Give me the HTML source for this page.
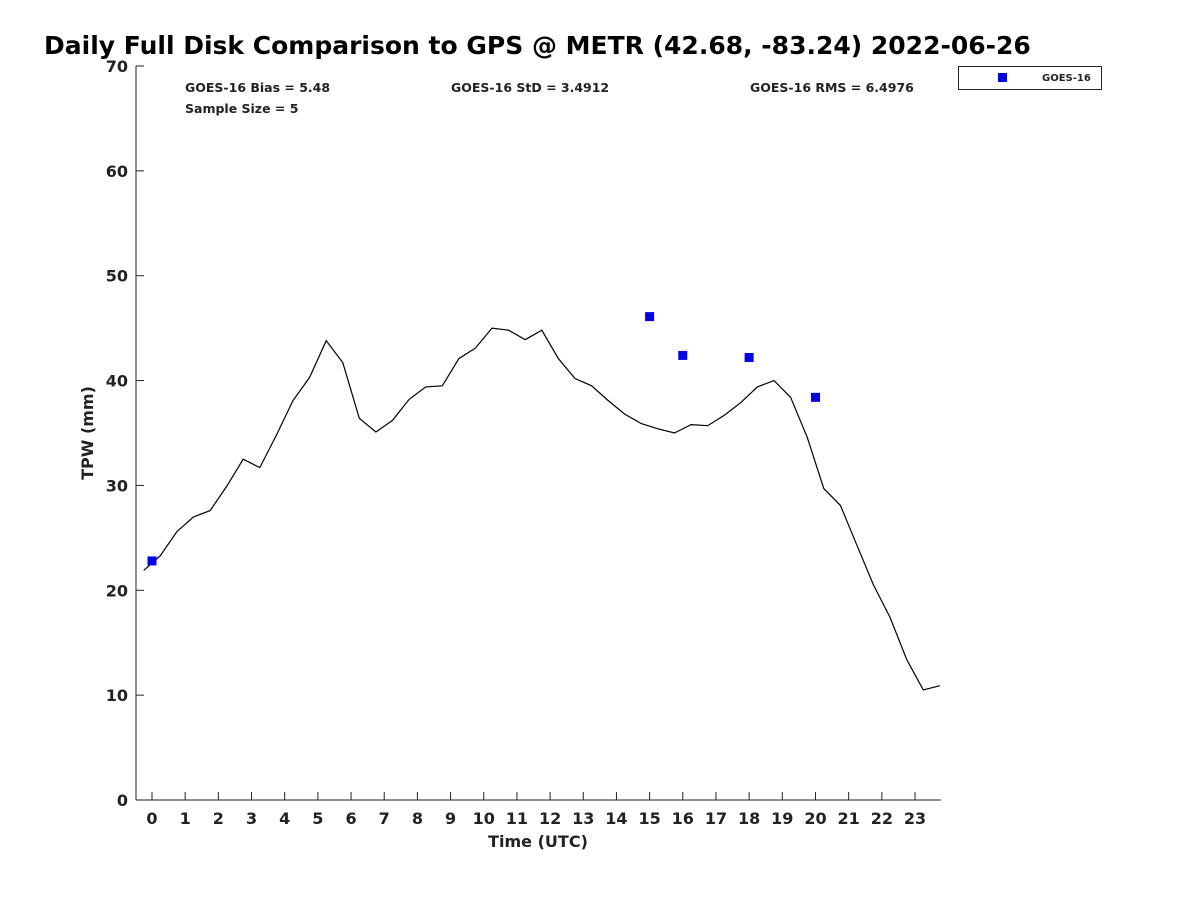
<!DOCTYPE html>
<html><head><meta charset="utf-8"><style>
body{margin:0;background:#fff;}
svg text{font-family:"DejaVu Sans","Liberation Sans",sans-serif;font-weight:bold;fill:#222;}
</style></head><body>
<svg width="1200" height="900" viewBox="0 0 1200 900" id="c">
<rect width="1200" height="900" fill="#fff"/>
<text x="44" y="54" font-size="25" fill="#000" style="fill:#000">Daily Full Disk Comparison to GPS @ METR (42.68, -83.24) 2022-06-26</text>
<text x="185" y="92" font-size="12.5">GOES-16 Bias = 5.48</text>
<text x="451" y="92" font-size="12.5">GOES-16 StD = 3.4912</text>
<text x="750" y="92" font-size="12.5">GOES-16 RMS = 6.4976</text>
<text x="185" y="113" font-size="12.5">Sample Size = 5</text>
<g>
<rect x="958.5" y="66.5" width="143" height="23" fill="#fff" stroke="#222"/>
<rect x="998" y="73" width="9" height="9" fill="#0000ee"/>
<text x="1042" y="81" font-size="10">GOES-16</text>
</g>
<text transform="translate(93,433) rotate(-90)" text-anchor="middle" font-size="16">TPW (mm)</text>
<text x="538" y="847" text-anchor="middle" font-size="16">Time (UTC)</text>
<g id="plot"></g>
</svg>
<script>
const yTicks=[0,10,20,30,40,50,60,70];
const xTicks=[0,1,2,3,4,5,6,7,8,9,10,11,12,13,14,15,16,17,18,19,20,21,22,23];
const gpsStart=-0.25, gpsStep=0.5;
const gpsValues=[21.9,23.3,25.6,27.0,27.6,29.9,32.5,31.7,34.8,38.1,40.3,43.8,41.7,36.4,35.1,36.2,38.2,39.4,39.5,42.1,43.1,45.0,44.8,43.9,44.8,42.1,40.2,39.5,38.1,36.8,35.9,35.4,35.0,35.8,35.7,36.7,37.9,39.4,40.0,38.4,34.6,29.7,28.1,24.3,20.5,17.4,13.4,10.5,10.9];
const goesTimes=[0,15,16,18,20];
const goesValues=[22.8,46.1,42.4,42.2,38.4];
const NS="http://www.w3.org/2000/svg";
const L=136,R=941,T=66,B=800;
const xS=t=>152+t*(915-152)/23;
const yS=v=>B-v*(B-T)/70;
const g=document.getElementById('plot');
function mk(tag,attrs){const e=document.createElementNS(NS,tag);for(const k in attrs)e.setAttribute(k,attrs[k]);g.appendChild(e);return e;}
let e=mk('line',{x1:L,y1:T,x2:L,y2:B,stroke:'#222'});


e=mk('line',{x1:L,y1:B,x2:R,y2:B,stroke:'#222'});


yTicks.forEach(v=>{
 const y=yS(v);
 let t=mk('line',{x1:L,y1:y,x2:L+8,y2:y,stroke:'#222'});
 
 
 let s=mk('text',{x:L-8,y:y+6,'text-anchor':'end','font-size':16});
 s.textContent=v;
 
 
});
xTicks.forEach(v=>{
 const x=xS(v);
 let t=mk('line',{x1:x,y1:B,x2:x,y2:B-8,stroke:'#222'});
 
 
 let s=mk('text',{x:x,y:B+24,'text-anchor':'middle','font-size':16});
 s.textContent=v;
 
 
});
const pts=gpsValues.map((v,i)=>xS(gpsStart+i*gpsStep).toFixed(1)+','+yS(v).toFixed(1)).join(' ');
let pl=mk('polyline',{points:pts,fill:'none',stroke:'#000','stroke-width':1.2});


goesTimes.forEach((t,i)=>{
 let r=mk('rect',{x:xS(t)-4.5,y:yS(goesValues[i])-4.5,width:9,height:9,fill:'#0000ee'});
 
 
});
</script>
</body></html>
